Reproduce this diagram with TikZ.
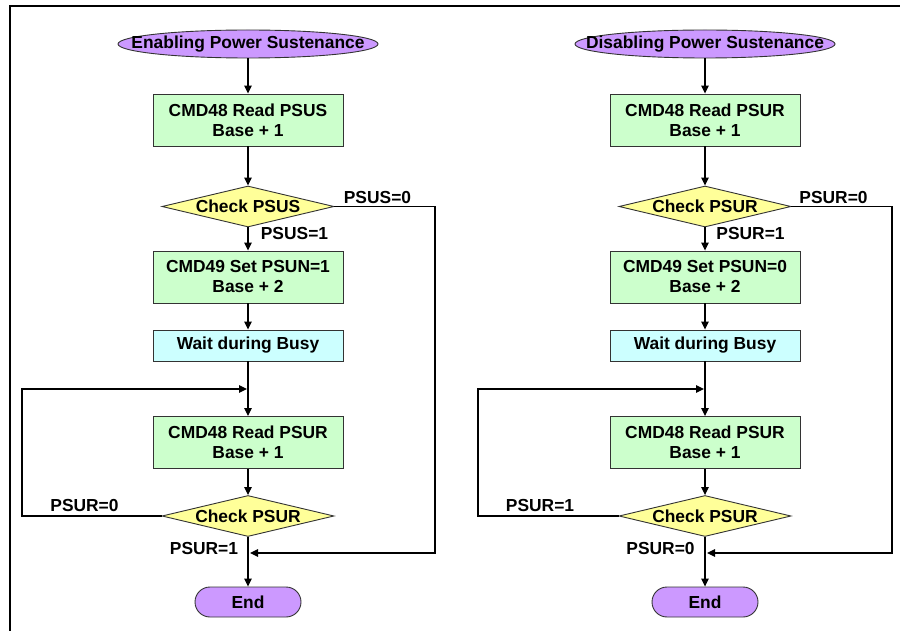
\documentclass[tikz,border=0pt]{standalone}
\usepackage{fontspec}
\setmainfont{Liberation Sans}
\usetikzlibrary{arrows.meta,shapes.geometric}
\definecolor{termfill}{HTML}{CC99FF}
\definecolor{procfill}{HTML}{CCFFCC}
\definecolor{waitfill}{HTML}{CCFFFF}
\definecolor{decfill}{HTML}{FFFF99}
\definecolor{edgec}{HTML}{333333}
\begin{document}
\begin{tikzpicture}[x=1pt,y=-1pt,
  every node/.style={font=\fontsize{17.4}{20}\selectfont\bfseries, text=black},
  term/.style={ellipse, draw=edgec, line width=0.9pt, fill=termfill, minimum width=260pt, minimum height=28pt, inner sep=0pt},
  endterm/.style={rectangle, rounded corners=15pt, draw=edgec, line width=0.9pt, fill=termfill, minimum width=106pt, minimum height=30pt, inner sep=0pt},
  procbox/.style={rectangle, draw=edgec, line width=0.9pt, fill=procfill, minimum width=190pt, minimum height=52pt, inner sep=0pt, align=center},
  waitbox/.style={rectangle, draw=edgec, line width=0.9pt, fill=waitfill, minimum width=190pt, minimum height=31pt, inner sep=0pt},
  decision/.style={diamond, shape aspect=4.2, draw=edgec, line width=0.9pt, fill=decfill, minimum width=172pt, minimum height=41pt, inner sep=0pt},
  lbl/.style={inner sep=0pt, text height=12.5pt, text depth=0pt},
  conn/.style={draw=black, line width=1.1pt},
  arr/.style={conn, -{Triangle[length=8pt,width=7.5pt]}}
]
\useasboundingbox (0,0) rectangle (900,631);
\fill[white] (0,0) rectangle (900,631);
% frame
\draw[line width=2pt] (9.5,631) -- (9.5,6.5) -- (900,6.5);

% ---------- left flow ----------
\node[term] (sL) at (248,44) {\makebox[0pt]{Enabling Power Sustenance}};
\node[procbox] (b1L) at (248,120) {CMD48 Read PSUS\\Base + 1};
\node[decision] (d1L) at (248,206.5) {Check PSUS};
\node[procbox] (b2L) at (248,277) {CMD49 Set PSUN=1\\Base + 2};
\node[waitbox] (wL) at (248,345.5) {Wait during Busy};
\node[procbox] (b3L) at (248,442.5) {CMD48 Read PSUR\\Base + 1};
\node[decision] (d2L) at (248,516) {Check PSUR};
\node[endterm] (eL) at (248,602) {End};

\coordinate (mL) at (248,389);
\coordinate (mLt) at (247,389);
\coordinate (cL1) at (435,206.5);
\coordinate (cL2) at (435,553);
\coordinate (tL) at (250,553);
\coordinate (lL1) at (22,516);
\coordinate (lL2) at (22,389);

\draw[arr] (sL) -- (b1L);
\draw[arr] (b1L) -- (d1L);
\draw[arr] (d1L) -- (b2L);
\draw[arr] (b2L) -- (wL);
\draw[conn] (wL) -- (mL);
\draw[arr] (mL) -- (b3L);
\draw[arr] (b3L) -- (d2L);
\draw[arr] (d2L) -- (eL);
\draw[arr] (d1L.east) -- (cL1) -- (cL2) -- (tL);
\draw[arr] (d2L.west) -- (lL1) -- (lL2) -- (mLt);

\node[lbl] (l1) at (377.5,197) {PSUS=0};
\node[lbl] (l2) at (294.5,233) {PSUS=1};
\node[lbl] (l3) at (84.5,505) {PSUR=0};
\node[lbl] (l4) at (204,548) {PSUR=1};

% ---------- right flow ----------
\node[term] (sR) at (705,44) {\makebox[0pt]{Disabling Power Sustenance}};
\node[procbox] (b1R) at (705,120) {CMD48 Read PSUR\\Base + 1};
\node[decision] (d1R) at (705,206.5) {Check PSUR};
\node[procbox] (b2R) at (705,277) {CMD49 Set PSUN=0\\Base + 2};
\node[waitbox] (wR) at (705,345.5) {Wait during Busy};
\node[procbox] (b3R) at (705,442.5) {CMD48 Read PSUR\\Base + 1};
\node[decision] (d2R) at (705,516) {Check PSUR};
\node[endterm] (eR) at (705,602) {End};

\coordinate (mR) at (705,389);
\coordinate (mRt) at (704,389);
\coordinate (cR1) at (892,206.5);
\coordinate (cR2) at (892,553);
\coordinate (tR) at (707,553);
\coordinate (lR1) at (478,516);
\coordinate (lR2) at (478,389);

\draw[arr] (sR) -- (b1R);
\draw[arr] (b1R) -- (d1R);
\draw[arr] (d1R) -- (b2R);
\draw[arr] (b2R) -- (wR);
\draw[conn] (wR) -- (mR);
\draw[arr] (mR) -- (b3R);
\draw[arr] (b3R) -- (d2R);
\draw[arr] (d2R) -- (eR);
\draw[arr] (d1R.east) -- (cR1) -- (cR2) -- (tR);
\draw[arr] (d2R.west) -- (lR1) -- (lR2) -- (mRt);

\node[lbl] (r1) at (833.5,197) {PSUR=0};
\node[lbl] (r2) at (750.5,233) {PSUR=1};
\node[lbl] (r3) at (540,505) {PSUR=1};
\node[lbl] (r4) at (660.5,548) {PSUR=0};
\end{tikzpicture}
\end{document}
